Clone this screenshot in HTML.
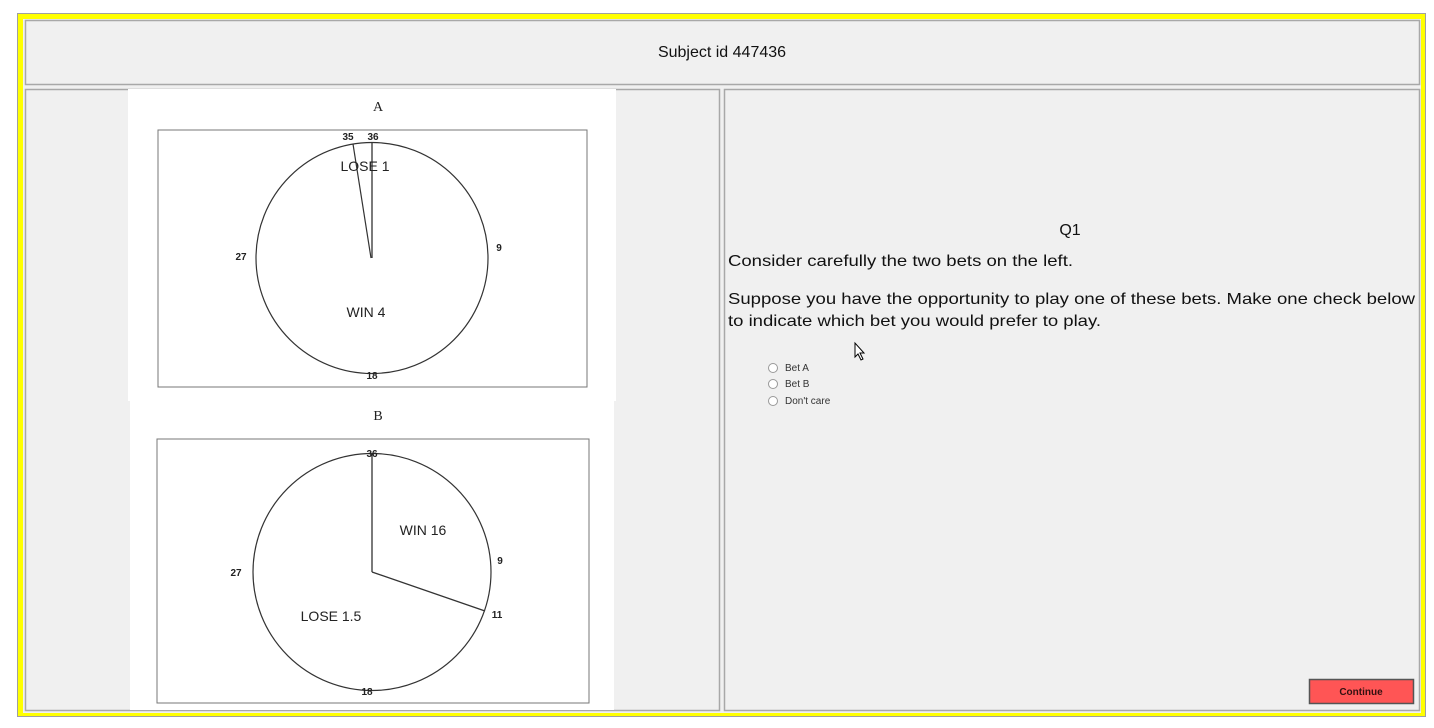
<!DOCTYPE html>
<html><head><meta charset="utf-8"><style>
html,body{margin:0;padding:0;background:#fff;}
svg{display:block;}
text{font-family:"Liberation Sans",sans-serif;}
.serif{font-family:"Liberation Serif",serif;}
</style></head><body>
<svg width="1434" height="728" viewBox="0 0 1434 728" xmlns="http://www.w3.org/2000/svg">
<rect x="0" y="0" width="1434" height="728" fill="#fff"/>
<rect x="17.5" y="13.5" width="1408" height="703" fill="#ffff00" stroke="#a0a0a0" stroke-width="1"/>
<rect x="23" y="19" width="1398" height="694" fill="#f0f0f0"/>
<!-- header -->
<rect x="25.5" y="20.5" width="1394" height="64" fill="#f0f0f0" stroke="#a8a8a8" stroke-width="1.5"/>
<text x="722" y="57" font-size="16" text-anchor="middle" fill="#111">Subject id 447436</text>
<!-- left panel -->
<rect x="25.5" y="89.5" width="694" height="621" fill="#f0f0f0" stroke="#a8a8a8" stroke-width="1.5"/>
<rect x="128" y="89" width="488" height="312" fill="#fff"/>
<rect x="130" y="400" width="484" height="310" fill="#fff"/>
<!-- A -->
<text x="378" y="111" font-size="14" class="serif" text-anchor="middle" fill="#222">A</text>
<rect x="158" y="130" width="429" height="257" fill="none" stroke="#777" stroke-width="1"/>
<ellipse cx="372" cy="258" rx="116" ry="115.5" fill="none" stroke="#333" stroke-width="1.2"/>
<line x1="372" y1="143" x2="372" y2="258" stroke="#333" stroke-width="1.3"/>
<line x1="353" y1="144" x2="371" y2="258" stroke="#333" stroke-width="1.2"/>
<text x="348" y="140" font-size="10" text-anchor="middle" fill="#222" font-weight="bold">35</text>
<text x="373" y="140" font-size="10" text-anchor="middle" fill="#222" font-weight="bold">36</text>
<text x="365" y="171" font-size="14" text-anchor="middle" fill="#222">LOSE 1</text>
<text x="241" y="260" font-size="10" text-anchor="middle" fill="#222" font-weight="bold">27</text>
<text x="499" y="251" font-size="10" text-anchor="middle" fill="#222" font-weight="bold">9</text>
<text x="366" y="317" font-size="14" text-anchor="middle" fill="#222">WIN 4</text>
<text x="372" y="379" font-size="10" text-anchor="middle" fill="#222" font-weight="bold">18</text>
<!-- B -->
<text x="378" y="420" font-size="14" class="serif" text-anchor="middle" fill="#222">B</text>
<rect x="157" y="439" width="432" height="264" fill="none" stroke="#777" stroke-width="1"/>
<ellipse cx="372" cy="572" rx="119" ry="118.5" fill="none" stroke="#333" stroke-width="1.2"/>
<line x1="372" y1="453" x2="372" y2="572" stroke="#333" stroke-width="1.3"/>
<line x1="372" y1="572" x2="485" y2="611" stroke="#333" stroke-width="1.3"/>
<text x="372" y="457" font-size="10" text-anchor="middle" fill="#222" font-weight="bold">36</text>
<text x="423" y="535" font-size="14" text-anchor="middle" fill="#222">WIN 16</text>
<text x="236" y="576" font-size="10" text-anchor="middle" fill="#222" font-weight="bold">27</text>
<text x="500" y="564" font-size="10" text-anchor="middle" fill="#222" font-weight="bold">9</text>
<text x="497" y="618" font-size="10" text-anchor="middle" fill="#222" font-weight="bold">11</text>
<text x="331" y="621" font-size="14" text-anchor="middle" fill="#222">LOSE 1.5</text>
<text x="367" y="695" font-size="10" text-anchor="middle" fill="#222" font-weight="bold">18</text>
<!-- right panel -->
<rect x="724.5" y="89.5" width="695" height="621" fill="#f0f0f0" stroke="#a8a8a8" stroke-width="1.5"/>
<text x="1070" y="235" font-size="16" text-anchor="middle" fill="#111">Q1</text>
<text x="728" y="266" font-size="16" fill="#111" textLength="345" lengthAdjust="spacingAndGlyphs">Consider carefully the two bets on the left.</text>
<text x="728" y="304" font-size="16" fill="#111" textLength="687" lengthAdjust="spacingAndGlyphs">Suppose you have the opportunity to play one of these bets. Make one check below</text>
<text x="728" y="326" font-size="16" fill="#111" textLength="373" lengthAdjust="spacingAndGlyphs">to indicate which bet you would prefer to play.</text>
<g fill="#fff" stroke="#999" stroke-width="1">
<circle cx="773" cy="368" r="4.5"/><circle cx="773" cy="384" r="4.5"/><circle cx="773" cy="401" r="4.5"/>
</g>
<g font-size="10" fill="#333">
<text x="785" y="371">Bet A</text><text x="785" y="387">Bet B</text><text x="785" y="404">Don't care</text>
</g>
<path d="M855 343 l0 14 l3 -3 l3 6 l2 -1 l-3 -6 l4 0 z" fill="#fff" stroke="#000" stroke-width="1"/>
<!-- button -->
<rect x="1309.5" y="679.5" width="104" height="24" fill="#ff5555" stroke="#555" stroke-width="1.5"/>
<text x="1361" y="695" font-size="10" font-weight="bold" text-anchor="middle" fill="#331111">Continue</text>
</svg>
</body></html>
